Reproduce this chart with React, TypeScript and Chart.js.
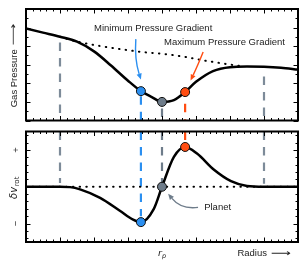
import React, { useEffect, useRef } from 'react';
import { Chart, registerables } from 'chart.js';

Chart.register(...registerables);

// ---- data (radius in arbitrary units 0..8, planet at r = 4) ----
const pressureR = [0, 0.5, 1, 1.5, 2, 2.5, 3, 3.38, 3.7, 4.0, 4.35, 4.68, 5.0, 5.5, 6.0, 6.5, 7.0, 7.5, 8.0];
const pressure = [4.95, 4.73, 4.51, 4.24, 3.72, 2.96, 2.14, 1.58, 1.26, 1.0, 1.1, 1.53, 2.08, 2.66, 2.87, 2.9, 2.89, 2.84, 2.74];

const unpertR = [1.0, 1.38, 2.18, 2.97, 3.44, 4.06, 4.65, 5.24, 5.82, 6.3];
const unpertP = [4.51, 4.3, 4.01, 3.79, 3.68, 3.58, 3.43, 3.23, 3.06, 2.93];

const velR = [0, 1.0, 1.3, 1.59, 2.18, 2.76, 3.15, 3.38, 3.76, 4.0, 4.35, 4.68, 5.03, 5.53, 6.03, 6.5, 7.0, 8.0];
const vel = [0, 0, -0.01, -0.07, -0.3, -0.65, -0.89, -0.96, -0.6, 0, 0.81, 1.08, 0.9, 0.46, 0.15, 0.02, 0, 0];

const zeroR = [0, 8];
const zeroV = [0, 0];

const markerR = [3.38, 4.0, 4.68];
const markerP = [1.58, 1.0, 1.53];
const markerV = [-0.96, 0.0, 1.08];
const markerColors = ['#2b8ff0', '#6e7c8a', '#ff4d12'];

const guideR = [1, 3.38, 4.0, 4.68, 7];
const guideColors = ['#7d8b99', '#2b8ff0', '#6e7c8a', '#ff4d12', '#7d8b99'];
const guideTopFrom = [4.2, 1.3, 0.65, 0.9, 2.37];
const guideBottomTo = [0.1, -0.8, 0.1, 1.2, 0.08];

const yTickValues = [1, -1];
const yTickLabels = ['+', '\u2212'];

const FONT = '"Liberation Sans", Arial, Helvetica, sans-serif';
const TEXT = '#222';
const FS = 9.5;

const pts = (xs: number[], ys: number[]) => xs.map((x, i) => ({ x, y: ys[i] }));

function longArrow(ctx: CanvasRenderingContext2D, x: number, y: number, len: number) {
  ctx.save();
  ctx.font = `${FS}px "DejaVu Sans"`;
  const w = ctx.measureText('\u27F6').width || 10;
  ctx.translate(x, y);
  ctx.scale(len / w, 1);
  ctx.textAlign = 'left';
  ctx.textBaseline = 'middle';
  ctx.fillStyle = TEXT;
  ctx.fillText('\u27F6', 0, 0);
  ctx.restore();
}

function drawFrame(chart: any, yMinor: number, yMajor: number) {
  const { ctx, chartArea: a, scales } = chart;
  const xs = scales.x, ys = scales.y;
  ctx.save();
  ctx.strokeStyle = '#000';
  ctx.lineWidth = 1;
  const line = (x1: number, y1: number, x2: number, y2: number) => {
    ctx.beginPath(); ctx.moveTo(x1, y1); ctx.lineTo(x2, y2); ctx.stroke();
  };
  const nx = Math.round((xs.max - xs.min) / 0.2);
  for (let i = 0; i <= nx; i++) {
    const v = xs.min + i * 0.2;
    const px = Math.round(xs.getPixelForValue(v)) + 0.5;
    const len = i % 5 === 0 ? 4.5 : 2.5;
    line(px, a.bottom, px, a.bottom - len);
    line(px, a.top, px, a.top + len);
  }
  const start = Math.ceil(ys.min / yMinor - 1e-6);
  const end = Math.floor(ys.max / yMinor + 1e-6);
  for (let k = start; k <= end; k++) {
    const v = k * yMinor;
    const py = Math.round(ys.getPixelForValue(v)) + 0.5;
    const major = Math.abs(v / yMajor - Math.round(v / yMajor)) < 1e-6;
    const len = major ? 4.5 : 2.5;
    line(a.left, py, a.left + len, py);
    line(a.right, py, a.right - len, py);
  }
  ctx.lineWidth = 2;
  ctx.strokeRect(a.left, a.top, a.right - a.left, a.bottom - a.top);
  ctx.restore();
}

function curvedArrow(chart: any, p0: number[], pc: number[], p1: number[], color: string) {
  const { ctx, scales } = chart;
  const X = (v: number) => scales.x.getPixelForValue(v);
  const Y = (v: number) => scales.y.getPixelForValue(v);
  const x0 = X(p0[0]), y0 = Y(p0[1]), xc = X(pc[0]), yc = Y(pc[1]), x1 = X(p1[0]), y1 = Y(p1[1]);
  const ang = Math.atan2(y1 - yc, x1 - xc);
  const hl = 6, hw = 2.6;
  const bx = x1 - hl * Math.cos(ang), by = y1 - hl * Math.sin(ang);
  ctx.save();
  ctx.strokeStyle = color;
  ctx.fillStyle = color;
  ctx.lineWidth = 1.4;
  ctx.beginPath();
  ctx.moveTo(x0, y0);
  ctx.quadraticCurveTo(xc, yc, bx, by);
  ctx.stroke();
  ctx.beginPath();
  ctx.moveTo(x1, y1);
  ctx.lineTo(bx + hw * Math.sin(ang), by - hw * Math.cos(ang));
  ctx.lineTo(bx - hw * Math.sin(ang), by + hw * Math.cos(ang));
  ctx.closePath();
  ctx.fill();
  ctx.restore();
}

function textAt(chart: any, s: string, xv: number, yv: number, align: CanvasTextAlign) {
  const { ctx, scales } = chart;
  ctx.save();
  ctx.font = `${FS}px ${FONT}`;
  ctx.fillStyle = TEXT;
  ctx.textAlign = align;
  ctx.textBaseline = 'middle';
  ctx.fillText(s, scales.x.getPixelForValue(xv), scales.y.getPixelForValue(yv));
  ctx.restore();
}

const topDecor = {
  id: 'topDecor',
  afterDraw(chart: any) {
    drawFrame(chart, 0.5, 1);
    const { ctx, chartArea: a } = chart;
    // y title
    ctx.save();
    ctx.translate(a.left - 12, (a.top + a.bottom) / 2 + 0.5);
    ctx.rotate(-Math.PI / 2);
    ctx.font = `${FS}px ${FONT}`;
    const w = ctx.measureText('Gas Pressure').width;
    const arrowLen = 22, gap = 4;
    const total = w + gap + arrowLen;
    ctx.fillStyle = TEXT;
    ctx.textAlign = 'left';
    ctx.textBaseline = 'middle';
    ctx.fillText('Gas Pressure', -total / 2, 0);
    longArrow(ctx, -total / 2 + w + gap, 0, arrowLen);
    ctx.restore();
    // annotations
    textAt(chart, 'Minimum Pressure Gradient', 3.74, 4.95, 'center');
    textAt(chart, 'Maximum Pressure Gradient', 5.84, 4.21, 'center');
    curvedArrow(chart, [3.23, 4.38], [3.19, 3.3], [3.38, 2.2], markerColors[0]);
    curvedArrow(chart, [5.21, 3.68], [5.05, 2.95], [4.84, 2.15], markerColors[2]);
  },
};

const bottomDecor = {
  id: 'bottomDecor',
  afterDraw(chart: any) {
    drawFrame(chart, 0.2, 1);
    const { ctx, chartArea: a, scales } = chart;
    // y tick labels (rotated)
    yTickValues.forEach((v, i) => {
      ctx.save();
      ctx.translate(a.left - 10, scales.y.getPixelForValue(v));
      ctx.rotate(-Math.PI / 2);
      ctx.font = `${FS}px ${FONT}`;
      ctx.fillStyle = TEXT;
      ctx.textAlign = 'center';
      ctx.textBaseline = 'middle';
      ctx.fillText(yTickLabels[i], 0, 0);
      ctx.restore();
    });
    // y title δv_rot
    ctx.save();
    ctx.translate(a.left - 13, (a.top + a.bottom) / 2 + 1);
    ctx.rotate(-Math.PI / 2);
    ctx.fillStyle = TEXT;
    ctx.textBaseline = 'alphabetic';
    ctx.textAlign = 'left';
    const mainFont = `italic ${FS + 0.5}px "DejaVu Sans"`;
    const subFont = `${FS - 2.5}px "DejaVu Sans"`;
    ctx.font = mainFont;
    const w1 = ctx.measureText('\u03B4v').width;
    ctx.font = subFont;
    const w2 = ctx.measureText('rot').width;
    const tot = w1 + w2 + 0.5;
    ctx.font = mainFont;
    ctx.fillText('\u03B4v', -tot / 2, 3.5);
    ctx.font = subFont;
    ctx.fillText('rot', -tot / 2 + w1 + 0.5, 5.5);
    ctx.restore();
    // x labels
    const yl = a.bottom + 11;
    ctx.save();
    ctx.fillStyle = TEXT;
    ctx.textBaseline = 'alphabetic';
    ctx.textAlign = 'left';
    const rFont = `italic ${FS}px "DejaVu Sans"`;
    const pFont = `italic ${FS - 3}px "DejaVu Sans"`;
    ctx.font = rFont;
    const rw = ctx.measureText('r').width;
    ctx.font = pFont;
    const pw = ctx.measureText('p').width;
    const rx = scales.x.getPixelForValue(4) - (rw + pw) / 2;
    ctx.font = rFont;
    ctx.fillText('r', rx, yl + 3);
    ctx.font = pFont;
    ctx.fillText('p', rx + rw, yl + 5);
    ctx.font = `${FS}px ${FONT}`;
    ctx.textBaseline = 'middle';
    ctx.textAlign = 'left';
    const rad = 'Radius';
    const radW = ctx.measureText(rad).width;
    const arrowLen = 20;
    const endX = a.right - 7;
    const sx = endX - arrowLen - 4 - radW;
    ctx.fillText(rad, sx, yl);
    ctx.restore();
    longArrow(ctx, endX - arrowLen, yl + 0.5, arrowLen);
    // annotation
    textAt(chart, 'Planet', 5.24, -0.57, 'left');
    curvedArrow(chart, [5.06, -0.56], [4.56, -0.62], [4.18, -0.19], markerColors[1]);
  },
};

function baseOptions(yMin: number, yMax: number, padding: any) {
  return {
    responsive: false,
    maintainAspectRatio: false,
    animation: false as const,
    events: [] as any[],
    layout: { padding },
    plugins: { legend: { display: false }, tooltip: { enabled: false } },
    scales: {
      x: { type: 'linear' as const, min: 0, max: 8, display: false },
      y: { type: 'linear' as const, min: yMin, max: yMax, display: false },
    },
  };
}

function guideSets(fromVals: number[], toVals: number[]) {
  return guideR.map((r, i) => ({
    data: [{ x: r, y: fromVals[i] }, { x: r, y: toVals[i] }],
    showLine: true,
    borderColor: guideColors[i],
    borderWidth: 2.2,
    borderDash: [8.5, 7],
    pointRadius: 0,
  }));
}

export default function App() {
  const topRef = useRef<HTMLCanvasElement>(null);
  const botRef = useRef<HTMLCanvasElement>(null);

  useEffect(() => {
    const top = new Chart(topRef.current as HTMLCanvasElement, {
      type: 'scatter',
      data: {
        datasets: [
          {
            data: pts(markerR, markerP),
            pointRadius: 4.5,
            pointBackgroundColor: markerColors,
            pointBorderColor: '#111',
            pointBorderWidth: 1,
            showLine: false,
          } as any,
          {
            data: pts(pressureR, pressure),
            showLine: true,
            borderColor: '#000',
            borderWidth: 2.5,
            pointRadius: 0,
            cubicInterpolationMode: 'monotone',
          },
          {
            data: pts(unpertR, unpertP),
            showLine: true,
            borderColor: '#000',
            borderWidth: 2,
            borderDash: [0.5, 6.2],
            borderCapStyle: 'round',
            pointRadius: 0,
            cubicInterpolationMode: 'monotone',
          },
          ...guideSets(guideTopFrom, guideR.map(() => 0)),
        ],
      },
      options: baseOptions(0, 6, { left: 26, right: 10, top: 9, bottom: 3 }) as any,
      plugins: [topDecor],
    });

    const bot = new Chart(botRef.current as HTMLCanvasElement, {
      type: 'scatter',
      data: {
        datasets: [
          {
            data: pts(markerR, markerV),
            pointRadius: 4.5,
            pointBackgroundColor: markerColors,
            pointBorderColor: '#111',
            pointBorderWidth: 1,
            showLine: false,
          } as any,
          {
            data: pts(velR, vel),
            showLine: true,
            borderColor: '#000',
            borderWidth: 2.5,
            pointRadius: 0,
            cubicInterpolationMode: 'monotone',
          },
          {
            data: pts(zeroR, zeroV),
            showLine: true,
            borderColor: '#000',
            borderWidth: 2,
            borderDash: [0.5, 6.2],
            borderCapStyle: 'round',
            pointRadius: 0,
          },
          ...guideSets(guideR.map(() => 1.5), guideBottomTo),
        ],
      },
      options: baseOptions(-1.5, 1.5, { left: 26, right: 10, top: 3, bottom: 27 }) as any,
      plugins: [bottomDecor],
    });

    return () => {
      top.destroy();
      bot.destroy();
    };
  }, []);

  return (
    <div style={{ position: 'fixed', left: 0, top: 0, width: 308, height: 269, background: '#fff' }}>
      <canvas ref={topRef} width={308} height={126} style={{ position: 'absolute', left: 0, top: 0 }} />
      <canvas ref={botRef} width={308} height={143} style={{ position: 'absolute', left: 0, top: 126 }} />
    </div>
  );
}
